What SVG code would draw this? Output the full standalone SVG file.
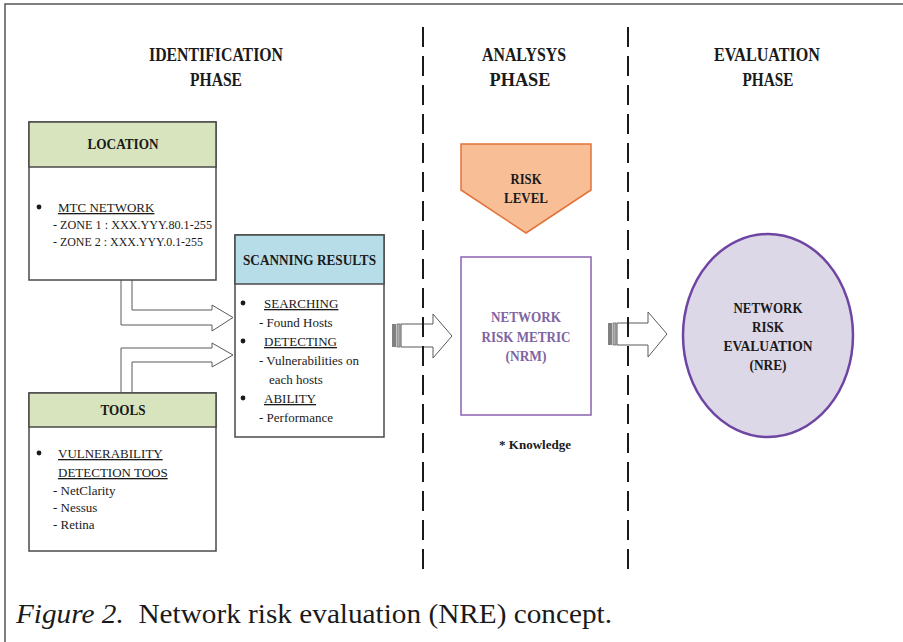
<svg xmlns="http://www.w3.org/2000/svg" width="903" height="642" viewBox="0 0 903 642">
<style>
  text { font-family: "Liberation Serif", "Times New Roman", serif; fill: #1a1a1a; }
  .h { font-size: 18px; font-weight: bold; text-anchor: middle; }
  .hd { font-size: 15px; font-weight: bold; text-anchor: middle; }
  .t { font-size: 13px; }
  .u { text-decoration: underline; }
  .box { fill: #ffffff; stroke: #4a4a4a; stroke-width: 1.5; }
  .green { fill: #D7E4BD; stroke: #4a4a4a; stroke-width: 1.5; }
  .blue { fill: #B7DDE8; stroke: #4a4a4a; stroke-width: 1.5; }
  .barrow { fill: #ffffff; stroke: #5a5a5a; stroke-width: 1; }
  .dash { stroke: #1a1a1a; stroke-width: 2; stroke-dasharray: 20 9; fill: none; }
  .purple { fill: #8064A2; }
</style>
<rect x="0" y="0" width="903" height="642" fill="#ffffff"/>
<path d="M5,642 V4 H903" fill="none" stroke="#555555" stroke-width="1.5"/>

<g id="headings">
  <text class="h" x="216" y="61" textLength="134" lengthAdjust="spacingAndGlyphs">IDENTIFICATION</text>
  <text class="h" x="216" y="86" textLength="52" lengthAdjust="spacingAndGlyphs">PHASE</text>
  <text class="h" x="524" y="61" textLength="84" lengthAdjust="spacingAndGlyphs">ANALYSYS</text>
  <text class="h" x="520" y="86" textLength="61" lengthAdjust="spacingAndGlyphs">PHASE</text>
  <text class="h" x="767" y="61" textLength="106" lengthAdjust="spacingAndGlyphs">EVALUATION</text>
  <text class="h" x="768" y="86" textLength="51" lengthAdjust="spacingAndGlyphs">PHASE</text>
</g>

<g id="connectors">
  <path class="barrow" d="M121,280 V325 H212 V331 L233,317.5 L212,305 V310 H132 V280"/>
  <path class="barrow" d="M121,393 V348 H212 V343 L233,355 L212,367 V362 H132 V393"/>
  <g id="striped1">
    <rect x="392" y="324" width="4" height="23" fill="#808080"/>
    <rect x="397" y="324" width="3" height="23" fill="#b0b0b0" stroke="#707070" stroke-width="0.8"/>
    <path class="barrow" d="M401,324 H433 V314 L452,336 L433,358 V347 H401 Z"/>
  </g>
  <g id="striped2">
    <rect x="608" y="323" width="4" height="22" fill="#808080"/>
    <rect x="613" y="323" width="3" height="22" fill="#b0b0b0" stroke="#707070" stroke-width="0.8"/>
    <path class="barrow" d="M617,323 H648 V312 L667,334 L648,357 V345 H617 Z"/>
  </g>
</g>

<g id="dividers">
  <line class="dash" x1="423" y1="27" x2="423" y2="569"/>
  <line class="dash" x1="628" y1="27" x2="628" y2="569"/>
</g>

<g id="location">
  <rect class="box" x="29" y="122" width="187" height="158"/>
  <rect class="green" x="29" y="122" width="187" height="45"/>
  <text class="hd" x="123" y="149" textLength="71" lengthAdjust="spacingAndGlyphs">LOCATION</text>
  <circle cx="39" cy="207" r="2.4" fill="#1a1a1a"/>
  <text class="t u" x="58" y="212">MTC NETWORK</text>
  <text class="t" x="53" y="229" textLength="159" lengthAdjust="spacingAndGlyphs">- ZONE 1 : XXX.YYY.80.1-255</text>
  <text class="t" x="53" y="246" textLength="150" lengthAdjust="spacingAndGlyphs">- ZONE 2 : XXX.YYY.0.1-255</text>
</g>

<g id="tools">
  <rect class="box" x="29" y="393" width="187" height="158"/>
  <rect class="green" x="29" y="393" width="187" height="34"/>
  <text class="hd" x="123" y="415" textLength="45" lengthAdjust="spacingAndGlyphs">TOOLS</text>
  <circle cx="39" cy="453" r="2.4" fill="#1a1a1a"/>
  <text class="t u" x="58" y="458">VULNERABILITY</text>
  <text class="t u" x="58" y="477">DETECTION TOOS</text>
  <text class="t" x="53" y="495">- NetClarity</text>
  <text class="t" x="53" y="512">- Nessus</text>
  <text class="t" x="53" y="529">- Retina</text>
</g>

<g id="scanning">
  <rect class="box" x="235" y="235" width="149" height="202"/>
  <rect class="blue" x="235" y="235" width="149" height="49"/>
  <text class="hd" x="309.5" y="265" textLength="133" lengthAdjust="spacingAndGlyphs">SCANNING RESULTS</text>
  <circle cx="243" cy="303" r="2.4" fill="#1a1a1a"/>
  <text class="t u" x="264" y="308">SEARCHING</text>
  <text class="t" x="259" y="327">- Found Hosts</text>
  <circle cx="243" cy="341" r="2.4" fill="#1a1a1a"/>
  <text class="t u" x="264" y="346">DETECTING</text>
  <text class="t" x="259" y="365">- Vulnerabilities on</text>
  <text class="t" x="269" y="384">each hosts</text>
  <circle cx="243" cy="398" r="2.4" fill="#1a1a1a"/>
  <text class="t u" x="264" y="403">ABILITY</text>
  <text class="t" x="259" y="422">- Performance</text>
</g>

<g id="risk-level">
  <path d="M461,144 H591 V190 L526,233 L461,190 Z" fill="#F8BE96" stroke="#E2733A" stroke-width="1.5"/>
  <text class="hd" x="526" y="184" textLength="31" lengthAdjust="spacingAndGlyphs">RISK</text>
  <text class="hd" x="526" y="203" textLength="44" lengthAdjust="spacingAndGlyphs">LEVEL</text>
</g>

<g id="nrm">
  <rect x="461" y="257" width="130" height="158" fill="#ffffff" stroke="#8A63AE" stroke-width="1.5"/>
  <text class="hd purple" x="526" y="322" textLength="70" lengthAdjust="spacingAndGlyphs">NETWORK</text>
  <text class="hd purple" x="526" y="342" textLength="89" lengthAdjust="spacingAndGlyphs">RISK METRIC</text>
  <text class="hd purple" x="526" y="361" textLength="41" lengthAdjust="spacingAndGlyphs">(NRM)</text>
  <text class="t" x="535" y="449" font-weight="bold" text-anchor="middle" textLength="72" lengthAdjust="spacingAndGlyphs">* Knowledge</text>
</g>

<g id="nre">
  <ellipse cx="768" cy="335.5" rx="85" ry="101.5" fill="#DDD8E8" stroke="#6E45A2" stroke-width="2.5"/>
  <text class="hd" x="768" y="313" textLength="69" lengthAdjust="spacingAndGlyphs">NETWORK</text>
  <text class="hd" x="768" y="332" textLength="32" lengthAdjust="spacingAndGlyphs">RISK</text>
  <text class="hd" x="768" y="351" textLength="89" lengthAdjust="spacingAndGlyphs">EVALUATION</text>
  <text class="hd" x="768" y="370" textLength="37" lengthAdjust="spacingAndGlyphs">(NRE)</text>
</g>

<g id="caption">
  <text x="16" y="623" font-size="28" fill="#222222" xml:space="preserve" textLength="596" lengthAdjust="spacingAndGlyphs"><tspan font-style="italic">Figure 2.</tspan>  Network risk evaluation (NRE) concept.</text>
</g>
</svg>
